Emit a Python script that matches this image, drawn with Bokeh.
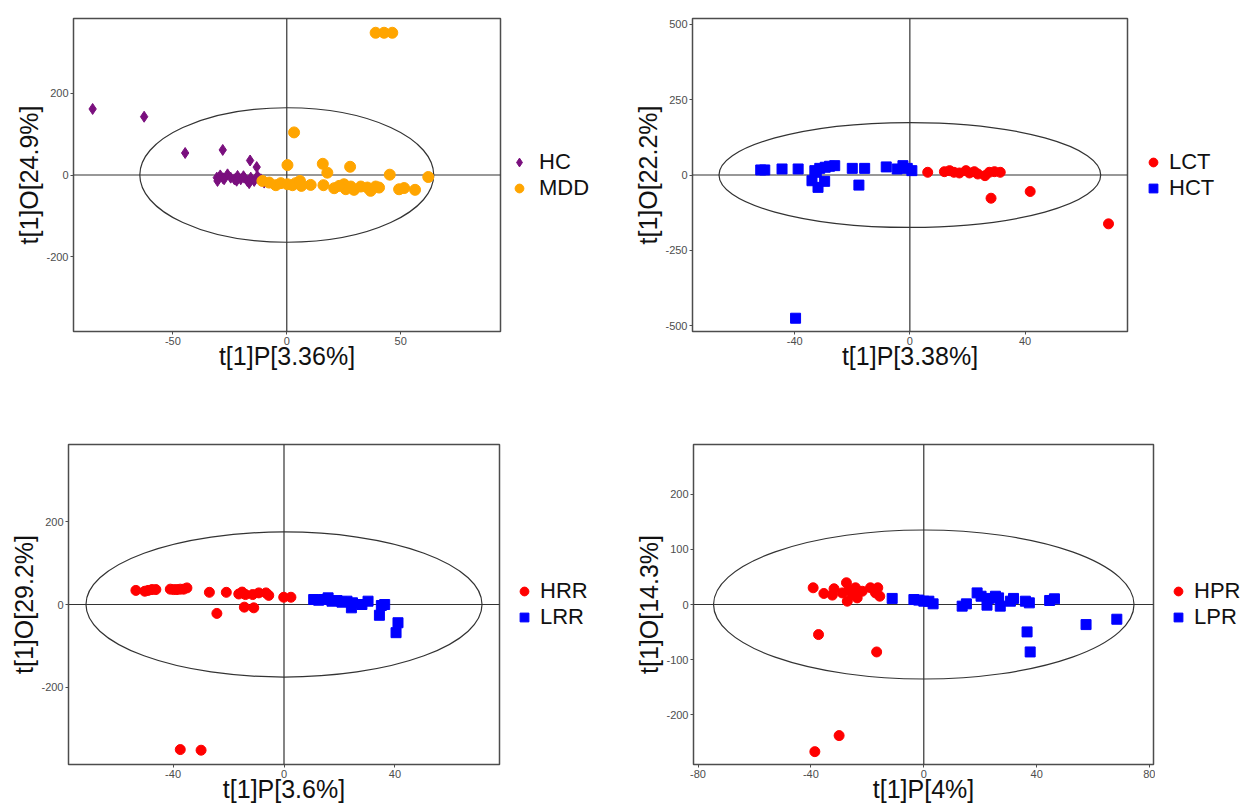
from bokeh.plotting import figure
from bokeh.models import Legend, LegendItem, FixedTicker, Range1d, Span
from bokeh.layouts import column, row
from bokeh.embed import file_html
from bokeh.resources import INLINE

FONT = "Liberation Sans"

# ---------------- Panel 1: HC vs MDD ----------------
hc_x = [-85.2, -62.6, -44.6, -28.1, -16.1, -13.2,
        -30.7, -29.2, -27.5, -26.0, -24.6, -23.0, -21.6, -20.2, -18.7, -17.3,
        -15.8, -14.3, -12.9, -11.4, -30.4, -16.5, -9.9, -28.0, -22.0, -19.0]
hc_y = [162, 143, 54, 61.5, 35.6, 19.4,
        -6.5, -1, -10.5, 1.6, -6.5, -10.5, -2.4, -10.5, -6.5, -14.6,
        -6.5, -14.6, -2.4, -10.5, -14.6, -20, -18.6, -8, -14, -3]
mdd_x = [39.0, 42.7, 46.3, 3.2, 0.3, 15.8, 17.8, 27.8, 45.2, 62.1, 49.3, 51.5, 56.3,
         -10.7, -7.7, -4.8, -2.6, 0.3, 2.5, 3.9, 5.8, 6.4, 10.5, 16.1, 20.8, 25.1,
         25.9, 29.5, 32.5, 35.4, 36.8, 39.0, 40.5, 28.1, 23.0]
mdd_y = [349, 349, 349, 104.5, 24.3, 27.5, 5.7, 20.2, 0.8, -4.9, -35, -32, -36.4,
         -14.6, -18.6, -25, -20, -22.7, -25, -20, -14.6, -26.7, -24.3, -25, -32.4, -22.7,
         -34.8, -36.4, -28.3, -30.8, -38.9, -28.3, -30.8, -28.3, -26.7]

# ---------------- Panel 2: LCT vs HCT ----------------
lct_x = [6.2, 12.0, 13.8, 15.3, 17.2, 19.5, 20.7, 22.4, 23.6, 26.1, 27.6, 29.4, 31.4,
         28.2, 41.8, 69.0]
lct_y = [9, 11, 14.5, 9, 6.7, 14.5, 6.7, 11, 3.3, -2.2, 9, 11, 9,
         -77, -54.7, -162]
hct_x = [-51.8, -50.4, -44.4, -38.8, -39.7, -34.0, -33.0, -31.9, -31.3, -29.6, -29.4,
         -27.9, -26.1, -20.0, -17.7, -15.7, -8.2, -4.4, -2.4, -0.9, 0.7, -32.5]
hct_y = [16.7, 16.7, 20, 20, -475, -19, 14.5, -41, 22, -21, 25.7,
         29, 31, 22, -33.5, 22, 26.8, 20, 31, 22, 14.5, 9]

# ---------------- Panel 3: HRR vs LRR ----------------
hrr_x = [-53.4, -50.2, -49.0, -47.6, -46.2, -41.0, -39.8, -38.6, -37.4, -36.2, -35.0,
         -26.9, -20.8, -16.3, -15.1, -13.9, -11.3, -9.1, -6.5, -5.5, -0.1, 2.5,
         -24.2, -14.3, -10.9, -37.4, -29.9]
hrr_y = [34, 32, 34, 36, 36, 37, 36, 36, 37, 37, 40,
         29.4, 29.4, 25.4, 30, 24, 24, 28, 28, 22, 17.5, 17.5,
         -21.5, -6.4, -8, -350, -351.5]
lrr_x = [10.7, 12.5, 14.3, 15.9, 17.3, 19.1, 20.9, 22.7, 24.3, 24.7, 28.1, 30.3,
         34.4, 35.1, 36.3, 41.1, 40.4]
lrr_y = [12, 10.3, 12, 16, 8, 9.5, 5.6, 8, -8, 4, 0, 8,
         -26, -2.4, 0, -44, -68]

# ---------------- Panel 4: HPR vs LPR ----------------
hpr_x = [-39.2, -35.4, -32.4, -31.8, -28.9, -27.4, -27.1, -26.5, -25.4, -24.2, -23.6,
         -21.8, -18.9, -17.1, -16.3, -15.6, -37.3, -16.7, -30.0, -38.6]
hpr_y = [30.3, 20, 17, 28.5, 21, 39.4, 6, 27, 18, 30.3, 12,
         24, 30.3, 21, 30.3, 15, -54.5, -86, -237.6, -266.7]
lpr_x = [-11.2, -3.5, -1.8, 0.0, 1.8, 3.3, 13.6, 15.1, 18.9, 20.3, 22.4, 23.0, 25.4,
         26.5, 27.1, 30.7, 31.8, 36.0, 37.4, 36.6, 37.7, 44.6, 46.3, 57.5, 68.4]
lpr_y = [11, 9, 8, 6, 6, 1.2, -3, 1.2, 21, 15, -1.2, 11, 15,
         12, -3, 6, 11, 6, 3, -49.7, -86, 7.3, 10.3, -36.4, -26.7]

PURPLE = "#7a0f7e"
ORANGE = "#ffa500"
RED = "#ff0000"
BLUE = "#0000ff"
FRAME = "#4d4d4d"


def make_panel(fw, fh, left, top, bottom, xr, yr, xticks, yticks,
               xlabel, ylabel, ell_a, ell_b, series):
    right = 2
    p = figure(width=left + fw + right, height=top + fh + bottom,
               x_range=Range1d(*xr), y_range=Range1d(*yr),
               output_backend="svg", toolbar_location=None,
               min_border_left=left, min_border_right=right,
               min_border_top=top, min_border_bottom=bottom)
    p.grid.visible = False
    p.background_fill_color = "white"
    p.border_fill_color = "white"
    p.outline_line_color = FRAME
    p.outline_line_width = 1.5
    p.outline_line_alpha = 1.0
    p.xaxis.ticker = FixedTicker(ticks=xticks)
    p.yaxis.ticker = FixedTicker(ticks=yticks)
    p.xaxis.major_label_overrides = {t: str(t) for t in xticks}
    p.yaxis.major_label_overrides = {t: str(t) for t in yticks}
    for ax in (p.xaxis[0], p.yaxis[0]):
        ax.axis_line_color = None
        ax.major_tick_out = 3
        ax.major_tick_in = 0
        ax.minor_tick_line_color = None
        ax.major_tick_line_color = FRAME
        ax.major_label_text_font = FONT
        ax.major_label_text_font_size = "11px"
        ax.major_label_text_color = "#4d4d4d"
        ax.major_label_standoff = 2
        ax.axis_label_text_font = FONT
        ax.axis_label_text_font_size = "25px"
        ax.axis_label_text_font_style = "normal"
        ax.axis_label_text_color = "#111111"
    p.xaxis.axis_label = xlabel
    p.yaxis.axis_label = ylabel
    p.xaxis.axis_label_standoff = -6
    p.yaxis.axis_label_standoff = 0

    p.add_layout(Span(location=0, dimension="width", line_color="#333333",
                      line_width=1.2, level="underlay"))
    p.add_layout(Span(location=0, dimension="height", line_color="#333333",
                      line_width=1.2, level="underlay"))
    p.ellipse(x=[0], y=[0], width=[2 * ell_a], height=[2 * ell_b],
              fill_color=None, line_color="#333333", line_width=1.2)

    for name, xs, ys, marker, color, size in series:
        p.scatter(xs, ys, marker=marker, size=size, fill_color=color,
                  line_color=color)
    return p


def make_legend(width, height, top, bottom, entries, margin, standoff):
    # A narrow figure beside each panel that only carries the legend.
    # Its ranges exclude every data point, so only the legend keys are drawn.
    lf = figure(width=width, height=height, x_range=Range1d(1e6, 1e6 + 1),
                y_range=Range1d(1e6, 1e6 + 1), output_backend="svg",
                toolbar_location=None, x_axis_type=None, y_axis_type=None,
                min_border_left=0, min_border_right=0,
                min_border_top=top, min_border_bottom=bottom)
    lf.grid.visible = False
    lf.outline_line_color = None
    lf.background_fill_color = "white"
    lf.border_fill_color = "white"
    items = []
    for name, xs, ys, marker, color in entries:
        r = lf.scatter(xs, ys, marker=marker, fill_color=color,
                       line_color=color)
        items.append(LegendItem(label=name, renderers=[r]))
    legend = Legend(items=items, location="center_left",
                    label_text_font=FONT, label_text_font_size="22px",
                    label_text_color="#111111",
                    glyph_width=22, glyph_height=22, label_height=22,
                    label_standoff=standoff, spacing=0, margin=margin,
                    padding=0, border_line_color=None,
                    background_fill_alpha=0)
    lf.add_layout(legend)
    return lf


T1, B1, FH1 = 18, 89, 313
T2, B2, FH2 = 24, 46, 320

p1 = make_panel(427, FH1, 73, T1, B1, (-93.6, 93.8), (-384, 384),
                [-50, 0, 50], [-200, 0, 200],
                "t[1]P[3.36%]", "t[1]O[24.9%]", 64.5, 165,
                [("HC", hc_x, hc_y, "diamond", PURPLE, 11),
                 ("MDD", mdd_x, mdd_y, "circle", ORANGE, 11)])
l1 = make_legend(128, T1 + FH1 + B1, T1, B1,
                 [("HC", hc_x, hc_y, "diamond", PURPLE),
                  ("MDD", mdd_x, mdd_y, "circle", ORANGE)], 6, 9)

p2 = make_panel(435, FH1, 62, T1, B1, (-75.5, 75.6), (-519, 519),
                [-40, 0, 40], [-500, -250, 0, 250, 500],
                "t[1]P[3.38%]", "t[1]O[22.2%]", 66.3, 174,
                [("LCT", lct_x, lct_y, "circle", RED, 10),
                 ("HCT", hct_x, hct_y, "square", BLUE, 10)])
l2 = make_legend(121, T1 + FH1 + B1, T1, B1,
                 [("LCT", lct_x, lct_y, "circle", RED),
                  ("HCT", hct_x, hct_y, "square", BLUE)], 13, 5)

p3 = make_panel(431, FH2, 68, T2, B2, (-77.7, 77.7), (-386, 386),
                [-40, 0, 40], [-200, 0, 200],
                "t[1]P[3.6%]", "t[1]O[29.2%]", 71.4, 175,
                [("HRR", hrr_x, hrr_y, "circle", RED, 10),
                 ("LRR", lrr_x, lrr_y, "square", BLUE, 10)])
l3 = make_legend(129, T2 + FH2 + B2, T2, B2,
                 [("HRR", hrr_x, hrr_y, "circle", RED),
                  ("LRR", lrr_x, lrr_y, "square", BLUE)], 12, 5)

p4 = make_panel(460, FH2, 63, T2, B2, (-81.6, 81.4), (-290, 290),
                [-80, -40, 0, 40, 80], [-200, -100, 0, 100, 200],
                "t[1]P[4%]", "t[1]O[14.3%]", 74.5, 135,
                [("HPR", hpr_x, hpr_y, "circle", RED, 10),
                 ("LPR", lpr_x, lpr_y, "square", BLUE, 10)])
l4 = make_legend(95, T2 + FH2 + B2, T2, B2,
                 [("HPR", hpr_x, hpr_y, "circle", RED),
                  ("LPR", lpr_x, lpr_y, "square", BLUE)], 12, 5)

layout = column(row(p1, l1, p2, l2), row(p3, l3, p4, l4))
open("out.html", "w").write(file_html(layout, INLINE))
